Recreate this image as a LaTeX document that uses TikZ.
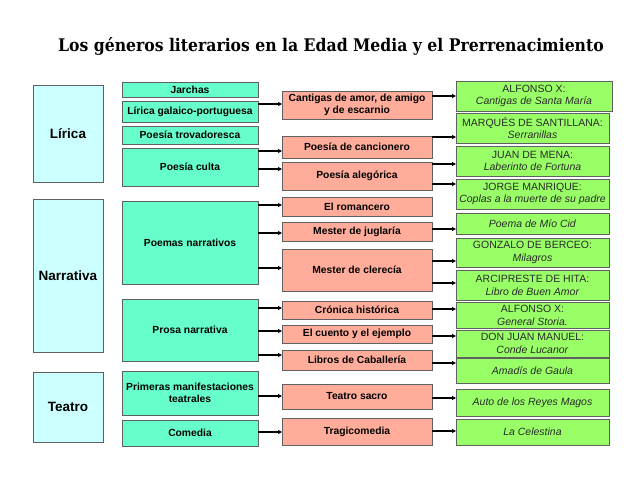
\documentclass[tikz,border=0pt]{standalone}
\usepackage{fontspec}
\setmainfont{Liberation Sans}
\newfontfamily\titlefont{DejaVu Serif Condensed}
\usetikzlibrary{arrows.meta}
\definecolor{cA}{HTML}{CCFFFF}
\definecolor{cB}{HTML}{66FFCC}
\definecolor{cC}{HTML}{FFAD9A}
\definecolor{cD}{HTML}{99FF66}
\definecolor{bord}{HTML}{606060}
\definecolor{txtD}{HTML}{2A2A2A}
\newcommand{\bx}[7]{\node[#2, anchor=north west, minimum width={(#5-#3)*1pt}, minimum height={(#6-#4)*1pt}] (#1) at (#3,#4) {#7};}
\newcommand{\con}[3]{\draw[arr] (#1.east |- 0,#3) -- (#2.west |- 0,#3);}
\begin{document}
\begin{tikzpicture}[x=1pt,y=-1pt,
  base/.style={draw=bord, line width=1pt, inner sep=1pt, outer sep=0pt, align=center},
  genre/.style={base, fill=cA, font=\fontsize{13.5}{15}\selectfont\bfseries},
  sub/.style={base, fill=cB, font=\fontsize{10.3}{12.5}\selectfont\bfseries},
  kind/.style={base, fill=cC, font=\fontsize{10.3}{12.5}\selectfont\bfseries},
  work/.style={base, fill=cD, text=txtD, font=\fontsize{10.5}{12.8}\selectfont},
  arr/.style={line width=1.2pt, -{Triangle[length=4pt,width=4pt]}}]
\useasboundingbox (0,0) rectangle (638,479);
\node[font=\titlefont\fontsize{17.4}{19}\selectfont\bfseries, anchor=center] (title) at (331,46) {Los géneros literarios en la Edad Media y el Prerrenacimiento};
% column 1
\bx{lir}{genre}{33}{85}{103}{182}{Lírica}
\bx{nar}{genre}{33}{199}{103}{352}{Narrativa}
\bx{tea}{genre}{33}{372}{103}{442}{Teatro}
% column 2
\bx{jar}{sub}{122}{82}{258}{97}{Jarchas}
\bx{gal}{sub}{122}{101}{258}{122}{Lírica galaico-portuguesa}
\bx{tro}{sub}{122}{126}{258}{144}{Poesía trovadoresca}
\bx{cul}{sub}{122}{148}{258}{186}{Poesía culta}
\bx{pna}{sub}{122}{201}{258}{284}{Poemas narrativos}
\bx{pro}{sub}{122}{299}{258}{361}{Prosa narrativa}
\bx{pri}{sub}{122}{371}{258}{415}{Primeras manifestaciones\\teatrales}
\bx{com}{sub}{122}{420}{258}{446}{Comedia}
% column 3
\bx{can}{kind}{282}{91}{432}{119}{Cantigas de amor, de amigo\\y de escarnio}
\bx{pca}{kind}{282}{136}{432}{158}{Poesía de cancionero}
\bx{ale}{kind}{282}{162}{432}{190}{Poesía alegórica}
\bx{rom}{kind}{282}{197}{432}{216}{El romancero}
\bx{jug}{kind}{282}{222}{432}{241}{Mester de juglaría}
\bx{cle}{kind}{282}{249}{432}{291}{Mester de clerecía}
\bx{cro}{kind}{282}{301}{432}{319}{Crónica histórica}
\bx{cue}{kind}{282}{325}{432}{343}{El cuento y el ejemplo}
\bx{lib}{kind}{282}{350}{432}{370}{Libros de Caballería}
\bx{sac}{kind}{282}{384}{432}{409}{Teatro sacro}
\bx{tra}{kind}{282}{418}{432}{445}{Tragicomedia}
% column 4
\bx{w1}{work}{456}{81}{612}{111}{ALFONSO X:\\\textit{Cantigas de Santa María}}
\bx{w2}{work}{456}{113}{609}{143}{MARQUÉS DE SANTILLANA:\\\textit{Serranillas}}
\bx{w3}{work}{456}{146}{609}{176}{JUAN DE MENA:\\\textit{Laberinto de Fortuna}}
\bx{w4}{work}{456}{179}{609}{209}{JORGE MANRIQUE:\\\textit{Coplas a la muerte de su padre}}
\bx{w5}{work}{456}{213}{609}{234}{\textit{Poema de Mío Cid}}
\bx{w6}{work}{456}{238}{609}{267}{GONZALO DE BERCEO:\\\textit{Milagros}}
\bx{w7}{work}{456}{270}{609}{300}{ARCIPRESTE DE HITA:\\\textit{Libro de Buen Amor}}
\bx{w8}{work}{456}{302}{609}{328}{ALFONSO X:\\\textit{General Storia.}}
\bx{w9}{work}{456}{330}{609}{357}{DON JUAN MANUEL:\\\textit{Conde Lucanor}}
\bx{w10}{work}{456}{358}{609}{383}{\textit{Amadís de Gaula}}
\bx{w11}{work}{456}{389}{609}{416}{\textit{Auto de los Reyes Magos}}
\bx{w12}{work}{456}{419}{609}{445}{\textit{La Celestina}}
% connectors col2 -> col3
\con{gal}{can}{104}
\con{cul}{pca}{151}
\con{cul}{ale}{169}
\con{pna}{rom}{205}
\con{pna}{jug}{233}
\con{pna}{cle}{268}
\con{pro}{cro}{308}
\con{pro}{cue}{331}
\con{pro}{lib}{355}
\con{pri}{sac}{396}
\con{com}{tra}{432}
% connectors col3 -> col4
\con{can}{w1}{96}
\con{pca}{w2}{137}
\con{ale}{w3}{164}
\con{ale}{w4}{184}
\con{jug}{w5}{229}
\con{cle}{w6}{261}
\con{cle}{w7}{283}
\con{cro}{w8}{309}
\con{cue}{w9}{336}
\con{lib}{w10}{363}
\con{sac}{w11}{398}
\con{tra}{w12}{431}
\end{tikzpicture}
\end{document}
